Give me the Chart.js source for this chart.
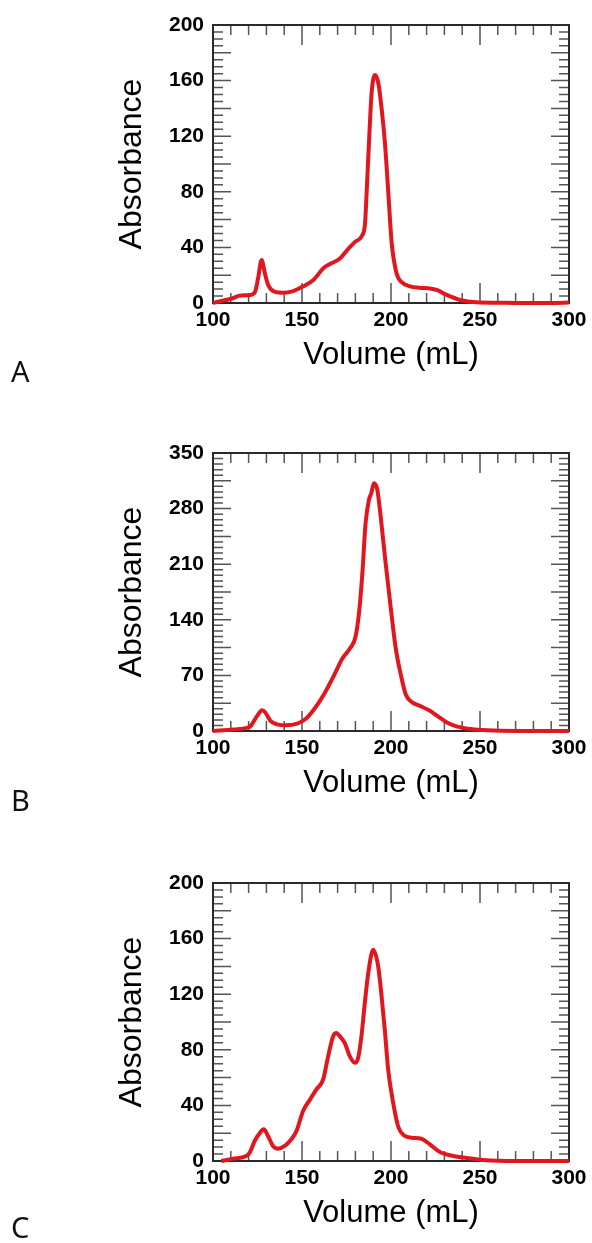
<!DOCTYPE html>
<html>
<head>
<meta charset="utf-8">
<script src="https://cdn.jsdelivr.net/npm/chart.js@4"></script>
<style>
  body { margin: 0; background: #fff; width: 592px; height: 1243px; position: relative; overflow: hidden; }
  .panel { position: absolute; left: 0; width: 592px; height: 400px; }
  .tag { position: absolute; left: 11px; font-family: 'Noto Sans', sans-serif; font-size: 29px; line-height: 29px; color: #111; }
</style>
</head>
<body>
<div class="panel" style="top:0px"><canvas id="chartA"></canvas></div>
<div class="panel" style="top:428px"><canvas id="chartB"></canvas></div>
<div class="panel" style="top:858px"><canvas id="chartC"></canvas></div>
<div class="tag" style="top:356px">A</div>
<div class="tag" style="top:785px">B</div>
<div class="tag" style="top:1212px">C</div>
<script>
// elution profiles
const volA = [100, 111, 115, 121, 123.6, 125.5, 127.3, 129.2, 131, 134.8, 139.5, 145, 150.7, 156.4, 162, 165.7, 171.3, 176, 179.8, 183.5, 185.4, 186.3, 187.8, 189.1, 191, 192.9, 194.8, 196.6, 198.5, 200.4, 203.2, 206, 210.7, 216, 221.9, 225.7, 231.3, 238.8, 248, 260, 270, 280, 290, 300];
const absA = [0, 3.4, 5.3, 5.8, 8, 19, 31, 21, 13, 8, 7.4, 8.6, 12, 16.5, 25, 28, 32, 39, 44, 48, 57, 79, 120, 151, 164, 158, 139, 115, 79, 43, 21, 15, 12, 11, 10.5, 9.4, 5.8, 2.2, 0.5, 0.2, 0, 0, 0, 0.3];

const volB = [100, 111.6, 119, 121, 124.8, 127.6, 129.5, 132.3, 136, 140.7, 147.3, 152, 156.7, 162.3, 168, 172.6, 177.3, 180, 182, 183.9, 185.7, 187.6, 188.9, 190.4, 192.3, 194.2, 197, 199.8, 202.6, 205.4, 208.3, 212, 215.8, 221.4, 226, 231.7, 237.3, 244.8, 254, 271, 300];
const absB = [0, 2, 4, 6, 19, 26, 23, 12.7, 8.4, 7.2, 9.3, 15, 27, 46, 70, 91, 105, 118, 148, 198, 261, 291, 299, 312, 304, 270, 211, 156, 105, 72, 46, 36, 32, 26, 19, 10.5, 5.5, 2.5, 0.8, 0, 0];

const volC = [104.7, 111.2, 118.7, 120.6, 123.4, 126.2, 128.5, 130.9, 133.7, 136.6, 140.3, 144, 146.9, 150.6, 154.4, 158.1, 161.9, 164.7, 167.5, 169.4, 171.2, 174, 176.8, 179.7, 181.5, 183.4, 185.3, 187.2, 190, 192.8, 194.7, 196.5, 198.4, 201.2, 204, 207.8, 211.5, 217.1, 221.8, 227.5, 235, 242.5, 251.8, 270.6, 300];
const absC = [0, 1.7, 3.6, 6, 14.4, 20, 22.8, 18, 10.8, 8.9, 10.8, 15.6, 21.6, 36, 44, 51.5, 58.7, 75.4, 89.8, 92, 89.8, 85, 75.4, 70.7, 74, 89.8, 113.8, 135, 152, 140, 118.6, 94.6, 65.9, 42, 25, 18, 16.8, 16, 12, 6.5, 3.6, 2.2, 0.7, 0, 0];

const xTicks = [100, 150, 200, 250, 300];
const yTicksA = [0, 40, 80, 120, 160, 200];
const yTicksB = [0, 70, 140, 210, 280, 350];
const yTicksC = [0, 40, 80, 120, 160, 200];

const FONT = "'Liberation Sans', Arial, Helvetica, sans-serif";

// box around the plot with inward ticks on all four sides
const frameTicks = {
    id: 'frameTicks',
    beforeDatasetsDraw(chart, args, opts) {
        const { ctx, chartArea: a, scales: { x, y } } = chart;
        ctx.save();
        ctx.strokeStyle = '#555';
        ctx.lineWidth = 1.5;
        ctx.beginPath();
        for (let v = x.min + opts.xMinor; v < x.max - 1e-6; v += opts.xMinor) {
            const px = x.getPixelForValue(v);
            const len = Math.abs(v % opts.xMajor) < 1e-6 ? 20 : 10;
            ctx.moveTo(px, a.bottom); ctx.lineTo(px, a.bottom - len);
            ctx.moveTo(px, a.top); ctx.lineTo(px, a.top + len);
        }
        for (let v = y.min + opts.yMinor; v < y.max - 1e-6; v += opts.yMinor) {
            const py = y.getPixelForValue(v);
            const len = Math.abs(v % opts.yMajor) < 1e-6 ? 18 : 10;
            ctx.moveTo(a.left, py); ctx.lineTo(a.left + len, py);
            ctx.moveTo(a.right, py); ctx.lineTo(a.right - len, py);
        }
        ctx.stroke();
        ctx.strokeStyle = '#2a2a2a';
        ctx.lineWidth = 2;
        ctx.strokeRect(a.left, a.top, a.width, a.height);
        ctx.restore();
    }
};

function makeChart(id, vols, values, yTicks, yMinor, yMajor) {
    const points = vols.map((v, i) => ({ x: v, y: values[i] }));
    return new Chart(document.getElementById(id), {
        type: 'scatter',
        data: {
            datasets: [{
                data: points,
                showLine: true,
                borderColor: '#e2161e',
                borderWidth: 4,
                pointRadius: 0,
                cubicInterpolationMode: 'monotone',
                clip: false
            }]
        },
        options: {
            responsive: true,
            maintainAspectRatio: false,
            animation: false,
            layout: { padding: { left: 100, top: 25, right: 23, bottom: 27 } },
            plugins: {
                legend: { display: false },
                tooltip: { enabled: false },
                frameTicks: { xMinor: 10, xMajor: 50, yMinor: yMinor, yMajor: yMajor }
            },
            scales: {
                x: {
                    type: 'linear',
                    min: xTicks[0],
                    max: xTicks[xTicks.length - 1],
                    afterBuildTicks: s => { s.ticks = xTicks.map(v => ({ value: v })); },
                    afterFit: s => { s.height = 70; },
                    grid: { drawOnChartArea: false, drawTicks: false },
                    border: { display: false },
                    ticks: { color: '#000', padding: 5, maxRotation: 0, font: { family: FONT, size: 21, weight: 'bold' } },
                    title: { display: true, text: 'Volume (mL)', color: '#000', padding: { top: 0, bottom: 2 }, font: { family: FONT, size: 31, lineHeight: 1 } }
                },
                y: {
                    type: 'linear',
                    min: yTicks[0],
                    max: yTicks[yTicks.length - 1],
                    afterBuildTicks: s => { s.ticks = yTicks.map(v => ({ value: v })); },
                    afterFit: s => { s.width = 113; },
                    grid: { drawOnChartArea: false, drawTicks: false },
                    border: { display: false },
                    ticks: { color: '#000', padding: 9, font: { family: FONT, size: 21, weight: 'bold' } },
                    title: { display: true, text: 'Absorbance', color: '#000', padding: { top: 16, bottom: 0 }, font: { family: FONT, size: 32, lineHeight: 1 } }
                }
            }
        },
        plugins: [frameTicks]
    });
}

makeChart('chartA', volA, absA, yTicksA, 5, 20);
makeChart('chartB', volB, absB, yTicksB, 7, 35);
makeChart('chartC', volC, absC, yTicksC, 5, 20);
</script>
</body>
</html>
